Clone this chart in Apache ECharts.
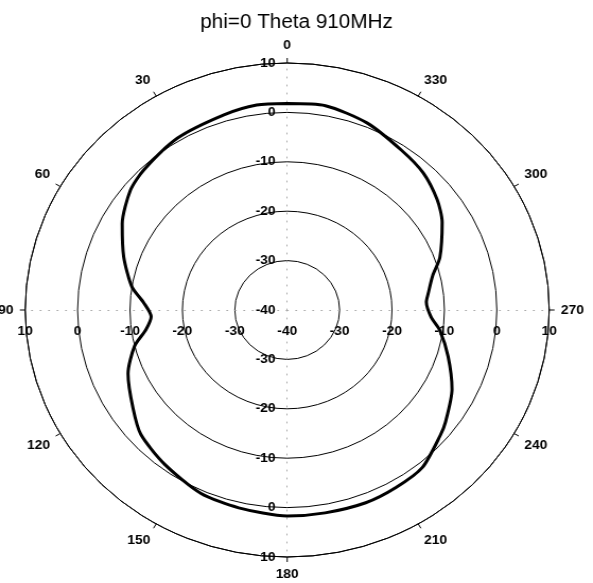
<!DOCTYPE html>
<html><head><meta charset="utf-8">
<script src="https://cdn.jsdelivr.net/npm/echarts@6/dist/echarts.min.js"></script>
<style>
html,body{margin:0;padding:0;background:#fff;overflow:hidden}
#wrap{width:593px;height:583px;overflow:hidden;position:relative}
#c{width:559px;height:583px;transform:scaleX(1.0608);transform-origin:0 0}
</style>
</head><body><div id="wrap"><div id="c"></div></div>
<script>
const titleText = 'phi=0 Theta 910MHz';
const radiusMin = -40, radiusMax = 10, radiusStep = 10;
const angleStep = 30;
// pattern samples: angle in degrees (counter-clockwise from top), gain in dB
const thetaDeg = [0, 8, 17, 31, 44, 51, 61, 71, 81, 87, 93, 98.5, 104, 113, 124, 132, 143, 156, 167, 180,
  190, 201, 210, 219, 229, 233, 243, 253, 262, 267, 273.5, 277, 284, 290, 301, 308, 317, 326, 338, 350, 360];
const gainDb = [1.8, 1.9, 1.3, 0.6, -0.6, -1.5, -4.0, -7.0, -10.0, -12.6, -14.0, -12.7, -10.0, -7.0, -4.5, -2.4, -1.0, 0.6, 1.1, 1.7,
  1.7, 1.8, 1.5, 1.0, -1.3, -2.2, -4.7, -7.9, -10.6, -12.5, -13.4, -12.9, -11.4, -9.0, -5.5, -3.7, -2.0, -1.0, 0.8, 2.0, 1.8];

const chart = echarts.init(document.getElementById('c'), null, {renderer: 'canvas'});
const cx = 287.2 / 1.0608, cy = 310, R = 247;
const font = 'Liberation Sans, Arial, sans-serif';
const lbl = {fontFamily: font, fontWeight: 'bold', fontSize: 13, color: '#000'};
const dotted = {show: true, lineStyle: {color: '#aaa', width: 1, type: [1, 7]}};
const starts = [90, 180, 0, 270];
const polar = starts.map(() => ({center: [cx, cy], radius: R}));
const angleAxis = starts.map((s, i) => i === 0 ? {
  polarIndex: 0, type: 'value', min: 0, max: 360, interval: angleStep, startAngle: s, clockwise: false,
  axisLine: {show: true, lineStyle: {color: '#000', width: 1}},
  axisTick: {show: true, length: 5, lineStyle: {color: '#000', width: 1}},
  axisLabel: Object.assign({margin: 11, formatter: v => v === 360 ? '' : String(v)}, lbl),
  splitLine: {show: false}
} : {
  polarIndex: i, type: 'value', min: 0, max: 360, startAngle: s, clockwise: false, show: false
});
const radiusAxis = [
  {polarIndex: 0, type: 'value', min: radiusMin, max: radiusMax, interval: radiusStep,
   axisLine: dotted, axisTick: {show: false},
   splitLine: {show: true, lineStyle: {color: '#000', width: 1}},
   axisLabel: Object.assign({margin: 11, showMinLabel: true, showMaxLabel: true}, lbl)},
  {polarIndex: 1, type: 'value', min: radiusMin, max: radiusMax, interval: radiusStep,
   axisLine: dotted, axisTick: {show: false}, splitLine: {show: false},
   axisLabel: Object.assign({margin: 15, showMinLabel: true, showMaxLabel: true, align: 'center', verticalAlign: 'top'}, lbl)},
  {polarIndex: 2, type: 'value', min: radiusMin, max: radiusMax, interval: radiusStep,
   axisLine: dotted, axisTick: {show: false}, splitLine: {show: false},
   axisLabel: Object.assign({margin: -15, showMinLabel: false, showMaxLabel: true, align: 'center', verticalAlign: 'top'}, lbl)},
  {polarIndex: 3, type: 'value', min: radiusMin, max: radiusMax, interval: radiusStep,
   axisLine: dotted, axisTick: {show: false}, splitLine: {show: false},
   axisLabel: Object.assign({margin: -11, showMinLabel: false, showMaxLabel: true, align: 'right', verticalAlign: 'middle'}, lbl)}
];
chart.setOption({
  animation: false,
  backgroundColor: '#fff',
  title: {text: titleText, left: 'center', top: 8,
    textStyle: {fontFamily: font, fontSize: 19.5, fontWeight: 'normal', color: '#000'}},
  polar, angleAxis, radiusAxis,
  series: [{
    type: 'line', coordinateSystem: 'polar', polarIndex: 0,
    data: thetaDeg.map((t, i) => [gainDb[i], t]),
    showSymbol: false, smooth: 0.25, z: 10,
    lineStyle: {color: '#000', width: 3}
  }]
});
</script>
</body></html>
